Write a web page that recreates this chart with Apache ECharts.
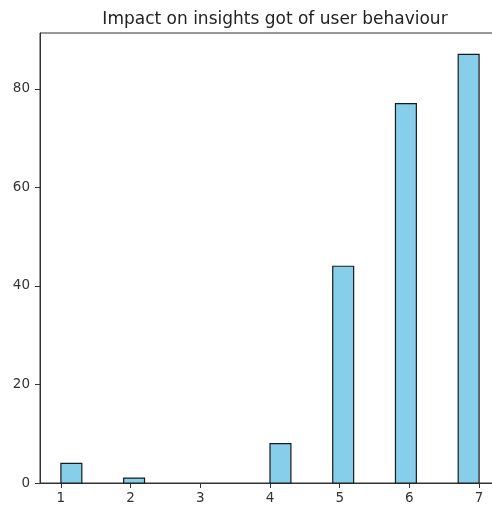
<!DOCTYPE html>
<html><head><meta charset="utf-8">
<script src="https://cdn.jsdelivr.net/npm/echarts@6/dist/echarts.min.js"></script>
<style>html,body{margin:0;padding:0;background:#fff;overflow:hidden}#c{width:512px;height:505px}</style>
</head><body><div id="c"></div>
<script>
const binStarts = [1.0, 1.9, 4.0, 4.9, 5.8, 6.7];
const binEnds   = [1.3, 2.2, 4.3, 5.2, 6.1, 7.0];
const counts    = [4, 1, 8, 44, 77, 87];
const xTicks = [1, 2, 3, 4, 5, 6, 7];
const yTicks = [0, 20, 40, 60, 80];
const titleText = 'Impact on insights got of user behaviour';

const data = binStarts.map((s, i) => [s, binEnds[i], counts[i]]);
const font = 'DejaVu Sans';
const chart = echarts.init(document.getElementById('c'));
chart.setOption({
  animation: false,
  title: { text: titleText, left: 270, textAlign: 'center', top: 6,
    textStyle: { fontFamily: font, fontSize: 17, fontWeight: 'normal', color: '#222' } },
  grid: { left: 40, top: 33, width: 460, height: 450, show: true, borderColor: '#333', borderWidth: 1, backgroundColor: 'transparent' },
  xAxis: { type: 'value', min: 0.7, max: 7.3,
    splitLine: { show: false },
    axisLine: { show: true, onZero: false, lineStyle: { color: '#333' } },
    axisTick: { show: true, length: 5, customValues: xTicks, lineStyle: { color: '#333' } },
    axisLabel: { customValues: xTicks, fontFamily: font, fontSize: 13.5, color: '#333', margin: 8 } },
  yAxis: { type: 'value', min: 0, max: 91.35,
    splitLine: { show: false },
    axisLine: { show: true, lineStyle: { color: '#333' } },
    axisTick: { show: true, length: 5, customValues: yTicks, lineStyle: { color: '#333' } },
    axisLabel: { customValues: yTicks, fontFamily: font, fontSize: 13.5, color: '#333', margin: 10 } },
  series: [{
    type: 'custom', data: data,
    encode: { x: [0, 1], y: 2 },
    renderItem: function (params, api) {
      const p0 = api.coord([api.value(0), 0]);
      const p1 = api.coord([api.value(1), api.value(2)]);
      return { type: 'rect',
        shape: { x: p0[0], y: p1[1], width: p1[0] - p0[0], height: p0[1] - p1[1] },
        style: { fill: '#87CEEB', stroke: '#1a1a1a', lineWidth: 1.2 } };
    }
  }]
});
</script></body></html>
